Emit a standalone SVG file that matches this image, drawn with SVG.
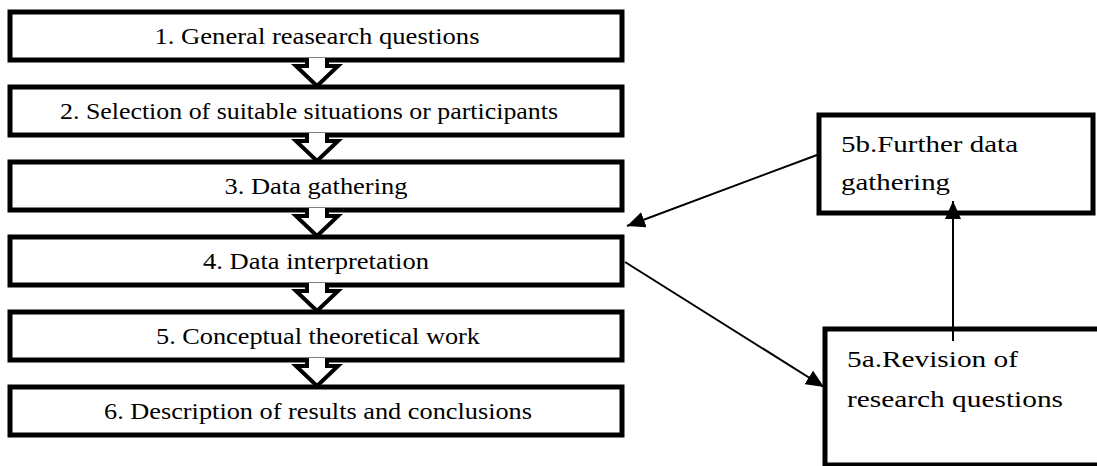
<svg xmlns="http://www.w3.org/2000/svg" xmlns:xlink="http://www.w3.org/1999/xlink" width="1097" height="466" viewBox="0 0 1097 466">
<style>
.box{fill:#ffffff;stroke:#000000;stroke-width:5}
.t{font-size:24px;fill:#000000}
.chev{fill:#ffffff;stroke:#000000;stroke-width:4}
.con{fill:none;stroke:#000000;stroke-width:2}
</style>
<defs>
<marker id="ah" markerUnits="userSpaceOnUse" markerWidth="20" markerHeight="16" refX="18" refY="8" orient="auto">
<path d="M0,0 L18,8 L0,16 Z" fill="#000000"/>
</marker>
</defs>
<rect x="0" y="0" width="1097" height="466" fill="#ffffff"/>
<g id="n1"><rect class="box" x="10" y="12" width="612" height="48"/><text class="t" font-family="Liberation Serif" x="317" y="44" text-anchor="middle" textLength="325" lengthAdjust="spacingAndGlyphs">1. General reasearch questions</text></g>
<g id="n2"><rect class="box" x="10" y="87" width="612" height="48"/><text class="t" font-family="Liberation Serif" x="309" y="119" text-anchor="middle" textLength="498" lengthAdjust="spacingAndGlyphs">2. Selection of suitable situations or participants</text></g>
<g id="n3"><rect class="box" x="10" y="162" width="612" height="48"/><text class="t" font-family="Liberation Serif" x="316" y="194" text-anchor="middle" textLength="183" lengthAdjust="spacingAndGlyphs">3. Data gathering</text></g>
<g id="n4"><rect class="box" x="10" y="237" width="612" height="48"/><text class="t" font-family="Liberation Serif" x="316" y="269" text-anchor="middle" textLength="226" lengthAdjust="spacingAndGlyphs">4. Data interpretation</text></g>
<g id="n5"><rect class="box" x="10" y="312" width="612" height="48"/><text class="t" font-family="Liberation Serif" x="318" y="344" text-anchor="middle" textLength="324" lengthAdjust="spacingAndGlyphs">5. Conceptual theoretical work</text></g>
<g id="n6"><rect class="box" x="10" y="387" width="612" height="48"/><text class="t" font-family="Liberation Serif" x="318" y="419" text-anchor="middle" textLength="428" lengthAdjust="spacingAndGlyphs">6. Description of results and conclusions</text></g>
<g id="n5b"><rect class="box" x="819" y="115" width="274" height="98"/><text class="t" font-family="Liberation Serif" x="841" y="152" textLength="177" lengthAdjust="spacingAndGlyphs">5b.Further data</text><text class="t" font-family="Liberation Serif" x="841" y="190" textLength="109" lengthAdjust="spacingAndGlyphs">gathering</text></g>
<g id="n5a"><path class="box" d="M1097,329 H825 V465 H1097"/><text class="t" font-family="Liberation Serif" x="847" y="367" textLength="171" lengthAdjust="spacingAndGlyphs">5a.Revision of</text><text class="t" font-family="Liberation Serif" x="847" y="407" textLength="216" lengthAdjust="spacingAndGlyphs">research questions</text></g>
<g id="connectors">
<path class="chev" d="M307,58 V66 H296 L317,86 L338,66 H327 V58"/>
<path class="chev" d="M307,133 V141 H296 L317,161 L338,141 H327 V133"/>
<path class="chev" d="M307,208 V216 H296 L317,236 L338,216 H327 V208"/>
<path class="chev" d="M307,283 V291 H296 L317,311 L338,291 H327 V283"/>
<path class="chev" d="M307,358 V366 H296 L317,386 L338,366 H327 V358"/>
<line class="con" x1="817" y1="155" x2="627" y2="226" marker-end="url(#ah)"/>
<line class="con" x1="953" y1="341" x2="953" y2="201" marker-end="url(#ah)"/>
<line class="con" x1="625" y1="262" x2="824" y2="387" marker-end="url(#ah)"/>
</g>
</svg>
